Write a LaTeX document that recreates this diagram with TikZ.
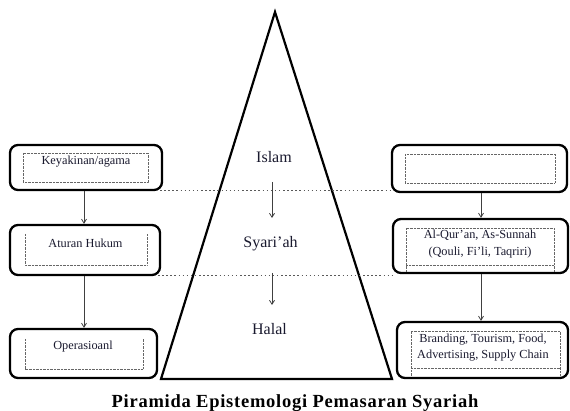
\documentclass[tikz,border=0pt]{standalone}
\usepackage{fontspec}
\setmainfont{Liberation Serif}
\usetikzlibrary{arrows.meta}
\definecolor{txt}{rgb}{0.1,0.1,0.18}
\tikzset{
  outerbox/.style={draw=black, line width=2.3pt, rounded corners=8pt, inner sep=0pt},
  innerdot/.style={draw=gray!80!black, line width=0.7pt, dash pattern=on 0.7pt off 0.7pt},
  guide/.style={draw=gray!70!black, line width=1pt, dash pattern=on 1.5pt off 2.6pt},
  arr/.style={draw=gray!50!black, line width=0.8pt, -{Straight Barb[length=4pt,width=5pt]}},
  boxtext/.style={font=\fontsize{12.3}{16.5}\selectfont, text=txt, inner sep=0pt, align=center},
  pyrtext/.style={font=\fontsize{16}{19}\selectfont, text=txt, inner sep=0pt},
}
\begin{document}
\begin{tikzpicture}[x=1pt,y=-1pt]
\useasboundingbox (0,0) rectangle (570,411);

% pyramid
\draw[line width=2.2pt, line join=miter] (275,12) -- (161,379) -- (392,379) -- cycle;

% left boxes
\node[outerbox, minimum width=152pt, minimum height=45pt] (L1) at (86,167.5) {};
\node[outerbox, minimum width=150pt, minimum height=50pt] (L2) at (85,250) {};
\node[outerbox, minimum width=147pt, minimum height=49pt] (L3) at (83.5,353.5) {};
% right boxes
\node[outerbox, minimum width=175pt, minimum height=47pt] (R1) at (479.5,168.5) {};
\node[outerbox, minimum width=175pt, minimum height=54pt] (R2) at (480.5,246) {};
\node[outerbox, minimum width=171pt, minimum height=56pt] (R3) at (482.5,350) {};

% inner dotted frames
\draw[innerdot] (23,153) rectangle (148,182);
\draw[innerdot] (25,234) -- (25,265) -- (147,265) -- (147,234);
\draw[innerdot] (25,339) -- (25,369) -- (143,369) -- (143,339);
\draw[innerdot] (405,154) rectangle (555,183);
\draw[innerdot] (406,272) -- (406,228) -- (554,228) -- (554,272);
\draw[innerdot] (406,265) -- (554,265);
\draw[innerdot] (411,376) -- (411,331) -- (560,331) -- (560,376);
\draw[innerdot] (411,368) -- (560,368);

% box texts
\node[boxtext] (t1) at (86,162) {Keyakinan/agama};
\node[boxtext] (t2) at (85.5,243) {Aturan Hukum};
\node[boxtext] (t3) at (83,347) {Operasioanl};
\node[boxtext] (t4) at (480,244) {Al-Qur’an, As-Sunnah\\(Qouli, Fi’li, Taqriri)};
\node[boxtext] (t5) at (483,347.5) {Branding, Tourism, Food,\\Advertising, Supply Chain};

% pyramid texts
\node[pyrtext] (islam) at (274,157) {Islam};
\node[pyrtext] (syariah) at (270.5,244) {Syari’ah};
\node[pyrtext] (halal) at (269.5,329) {Halal};

% guide lines
\coordinate (g1a) at (160,191);
\coordinate (g1b) at (393,191);
\coordinate (g2a) at (158,276);
\coordinate (g2b) at (394,276);
\draw[guide] (g1a) -- (g1b);
\draw[guide] (g2a) -- (g2b);

% arrows between boxes
\draw[arr] (L1.south -| 84,0) -- (L2.north -| 84,0);
\draw[arr] (L2.south -| 84,0) -- (L3.north -| 84,0);
\draw[arr] (R1.south -| 481,0) -- (R2.north -| 481,0);
\draw[arr] (R2.south -| 481,0) -- (R3.north -| 481,0);

% arrows in pyramid
\coordinate (p1a) at (272,182);
\coordinate (p1b) at (272,218);
\coordinate (p2a) at (272,273);
\coordinate (p2b) at (272,305);
\draw[arr] (p1a) -- (p1b);
\draw[arr] (p2a) -- (p2b);

% caption
\node[font=\bfseries\fontsize{18.5}{22}\selectfont\addfontfeature{LetterSpace=4}, text=black, inner sep=0pt] (cap) at (295,403) {Piramida Epistemologi Pemasaran Syariah};
\end{tikzpicture}
\end{document}
